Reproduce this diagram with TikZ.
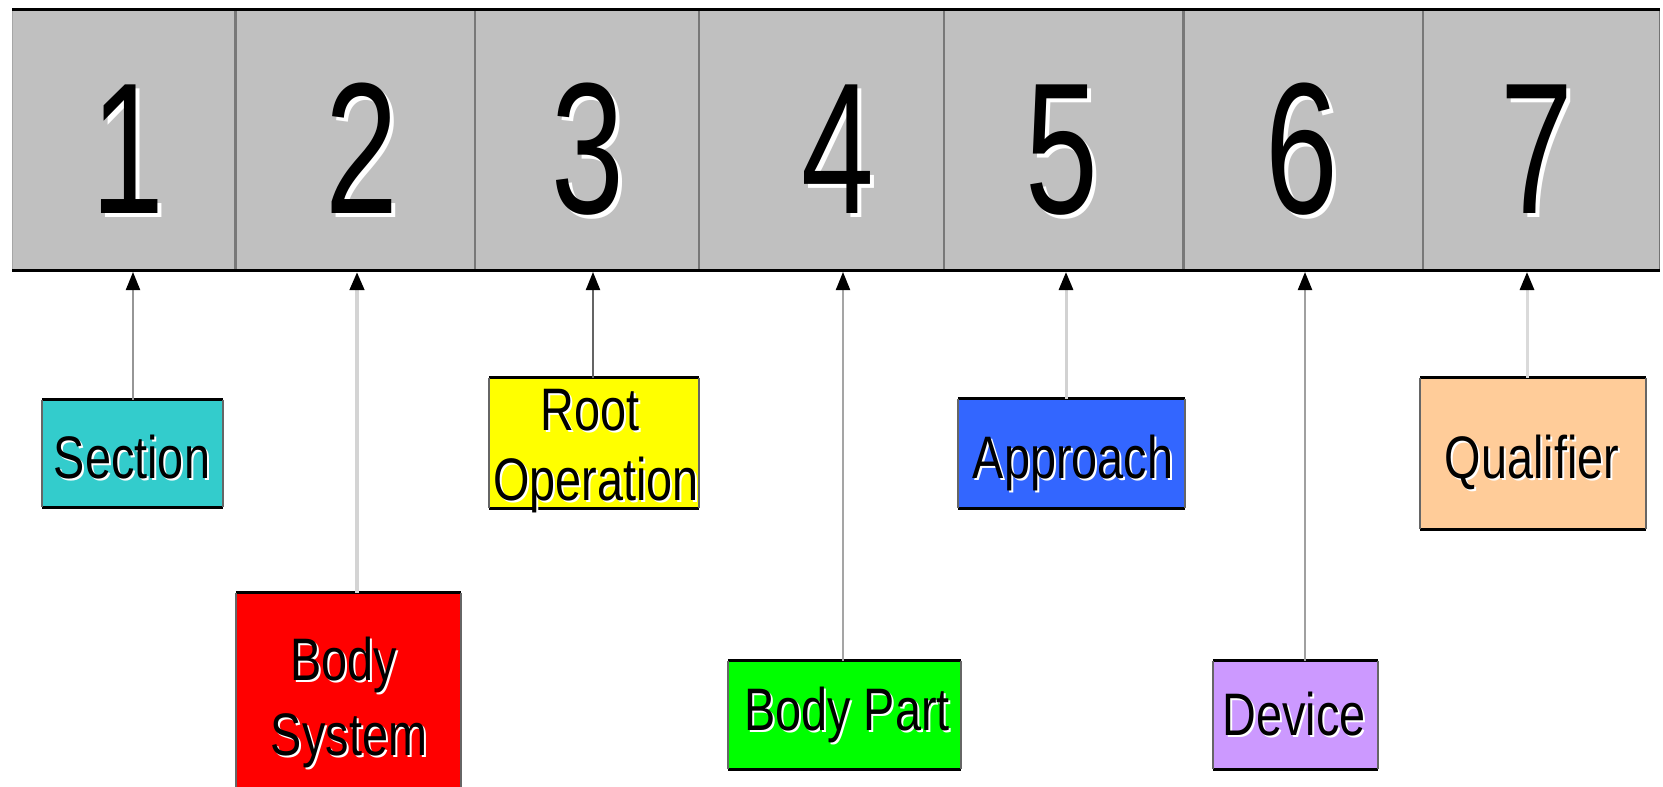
\documentclass[tikz,border=0pt]{standalone}
\usepackage{fontspec}
\newfontfamily\labfont[FakeStretch=0.78]{Liberation Sans}
\newfontfamily\digfont[FakeStretch=0.7]{Liberation Sans}
\usetikzlibrary{arrows.meta}
\definecolor{barfill}{RGB}{192,192,192}
\definecolor{divgray}{RGB}{120,120,120}
\definecolor{cSection}{RGB}{51,204,204}
\definecolor{cBodySys}{RGB}{255,0,0}
\definecolor{cRoot}{RGB}{255,255,0}
\definecolor{cBodyPart}{RGB}{0,255,0}
\definecolor{cApproach}{RGB}{51,102,255}
\definecolor{cDevice}{RGB}{204,153,255}
\definecolor{cQualifier}{RGB}{255,204,153}
\tikzset{
  digit/.style={font=\digfont\fontsize{187}{187}\selectfont, anchor=base, inner sep=0pt, text=black},
  digitshadow/.style={digit, text=white},
  lab/.style={font=\labfont\fontsize{60}{70}\selectfont, anchor=base, inner sep=0pt, text=black},
  labshadow/.style={lab, text=white},
  codebox/.style={fill=#1, draw=none, inner sep=0pt},
  conn/.style={line width=#1, -{Triangle[length=18pt,width=14pt,color=black]}},
}
\begin{document}
\begin{tikzpicture}[x=1pt,y=-1pt]
\useasboundingbox (0,0) rectangle (1663,787);
\fill[white] (0,0) rectangle (1663,787);

% ---- the bar of seven cells
\fill[barfill] (12,8) rectangle (1660,271);
\foreach \xx in {235.5,475,699,944,1183.5,1423}
  \draw[divgray, line width=2.5pt] (\xx,9) -- (\xx,270);
\draw[gray!70, line width=1.5pt] (12.5,9) -- (12.5,270);
\draw[gray!90!black, line width=1.8pt] (1659.5,9) -- (1659.5,270);
\draw[black, line width=3pt] (12,9.5) -- (1660,9.5);
\draw[black, line width=3pt] (12,270.5) -- (1660,270.5);

% digits with white highlight
\foreach \xx/\dd in {128/1,362/2,588/3,838/4,1062/5,1302/6,1537/7}{
  \node[digitshadow] at (\xx+4,217) {\dd};
}
\node[digit] (d1) at (128,213) {1};
\node[digit] (d2) at (362,213) {2};
\node[digit] (d3) at (588,213) {3};
\node[digit] (d4) at (838,213) {4};
\node[digit] (d5) at (1062,213) {5};
\node[digit] (d6) at (1302,213) {6};
\node[digit] (d7) at (1537,213) {7};

% arrow targets on the lower edge of the bar
\coordinate (t1) at (133,272);
\coordinate (t2) at (357,272);
\coordinate (t3) at (593,272);
\coordinate (t4) at (843,272);
\coordinate (t5) at (1066,272);
\coordinate (t6) at (1305,272);
\coordinate (t7) at (1527,272);

% ---- coloured boxes
\node[codebox=cSection,   minimum width=181pt, minimum height=107pt] (sec)   at (132.5,453.5) {};
\node[codebox=cBodySys,   minimum width=225pt, minimum height=196pt] (bsys)  at (348.5,691) {};
\node[codebox=cRoot,      minimum width=210pt, minimum height=130pt] (root)  at (594,443) {};
\node[codebox=cBodyPart,  minimum width=233pt, minimum height=108pt] (bpart) at (844.5,715) {};
\node[codebox=cApproach,  minimum width=227pt, minimum height=109pt] (appr)  at (1071.5,453.5) {};
\node[codebox=cDevice,    minimum width=165pt, minimum height=108pt] (dev)   at (1295.5,715) {};
\node[codebox=cQualifier, minimum width=226pt, minimum height=151pt] (qual)  at (1533,453.5) {};

% box borders: black top and bottom, thin grey sides
\foreach \n in {sec,root,bpart,appr,dev,qual}{
  \draw[black, line width=3pt] (\n.north west) -- (\n.north east);
  \draw[black, line width=3pt] (\n.south west) -- (\n.south east);
  \draw[gray!80!black, line width=1.5pt] (\n.north west) -- (\n.south west);
  \draw[gray!80!black, line width=1.5pt] (\n.north east) -- (\n.south east);
}
\draw[black, line width=3pt] (bsys.north west) -- (bsys.north east);
\draw[gray!80!black, line width=1.5pt] (bsys.north west) -- (bsys.south west);
\draw[gray!80!black, line width=1.5pt] (bsys.north east) -- (bsys.south east);

% ---- labels
\foreach \xx/\yy/\tt in {132/478/Section, 590/430/Root, 596/500/Operation,
    344/680/Body, 349/755/System, 847/730/Body Part, 1073/478/Approach,
    1294/735/Device, 1532/478/Qualifier}{
  \node[labshadow] at (\xx+2,\yy+2) {\tt};
  \node[lab] at (\xx,\yy) {\tt};
}

% ---- connectors
\draw[conn=2pt,   color={rgb,255:red,150;green,150;blue,150}] (t1 |- sec.north)   -- (t1);
\draw[conn=4pt,   color={rgb,255:red,212;green,212;blue,212}] (t2 |- bsys.north)  -- (t2);
\draw[conn=2pt,   color={rgb,255:red,100;green,100;blue,100}] (t3 |- root.north)  -- (t3);
\draw[conn=2pt,   color={rgb,255:red,165;green,165;blue,165}] (t4 |- bpart.north) -- (t4);
\draw[conn=3pt,   color={rgb,255:red,210;green,210;blue,210}] (t5 |- appr.north)  -- (t5);
\draw[conn=2.2pt, color={rgb,255:red,160;green,160;blue,160}] (t6 |- dev.north)   -- (t6);
\draw[conn=3pt,   color={rgb,255:red,218;green,218;blue,218}] (t7 |- qual.north)  -- (t7);
\end{tikzpicture}
\end{document}
